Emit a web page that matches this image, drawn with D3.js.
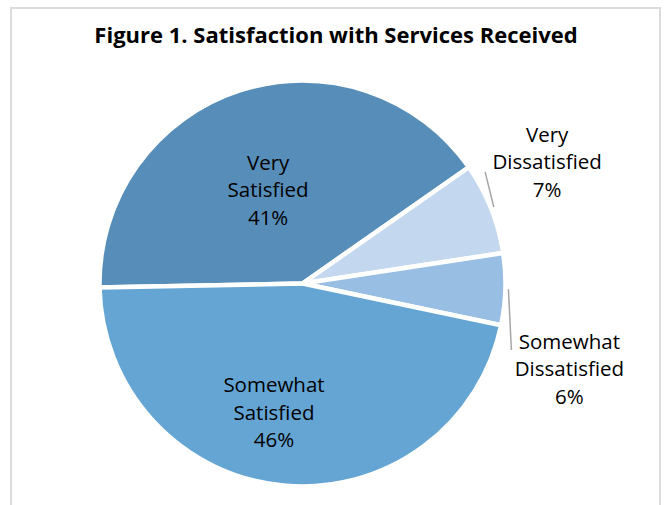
<!DOCTYPE html>
<html>
<head>
<meta charset="utf-8">
<script src="https://cdn.jsdelivr.net/npm/d3@7"></script>
<style>
  html, body { margin: 0; padding: 0; background: #fff; }
  svg { display: block; }
</style>
</head>
<body>
<svg id="chart" width="665" height="505"></svg>
<script>
// ---- data ----
const categories = ["Very Satisfied", "Very Dissatisfied", "Somewhat Dissatisfied", "Somewhat Satisfied"];
const values = [40.6, 7.3, 5.7, 46.4];
const labelLines = [["Very", "Satisfied"], ["Very", "Dissatisfied"], ["Somewhat", "Dissatisfied"], ["Somewhat", "Satisfied"]];
const colors = ["#578EB9", "#C3D8EE", "#98BEE3", "#65A5D4"];
const title = "Figure 1. Satisfaction with Services Received";

// ---- layout ----
const W = 665, H = 505;
const cx = 302.5, cy = 283.5, R = 203;
const startDeg = -91.1;
const FONT = "'Open Sans', 'Noto Sans', sans-serif";
// label placement relative to the slice's anchor point
const labelLayout = [
  { outside: false, dx: -3, dy: 3 },
  { outside: true, dx: -7, dy: -21, lx: -62, ly: 10 },
  { outside: true, dx: -4, dy: 78, lx: -58, ly: -19 },
  { outside: false, dx: -19, dy: 28 }
];

const svg = d3.select("#chart");

// frame
svg.append("rect")
  .attr("x", 11).attr("y", 8)
  .attr("width", 649).attr("height", 520)
  .attr("fill", "#fff")
  .attr("stroke", "#dcdcdc").attr("stroke-width", 2);

// title
svg.append("text")
  .attr("x", 336).attr("y", 43)
  .attr("text-anchor", "middle")
  .attr("font-family", FONT)
  .attr("font-weight", "bold")
  .attr("font-size", 22)
  .attr("fill", "#000")
  .text(title);

const rad = d => d * Math.PI / 180;
const pie = d3.pie().sort(null).value(d => d)
  .startAngle(rad(startDeg)).endAngle(rad(startDeg) + 2 * Math.PI);
const arcs = pie(values);
const arc = d3.arc().innerRadius(0).outerRadius(R);

const g = svg.append("g").attr("transform", `translate(${cx},${cy})`);

g.selectAll("path.slice")
  .data(arcs)
  .join("path")
  .attr("class", "slice")
  .attr("d", arc)
  .attr("fill", (d, i) => colors[i])
  .attr("stroke", "#fff")
  .attr("stroke-width", 4.5)
  .attr("stroke-linejoin", "miter");

const polar = (a, r) => [r * Math.sin(a), -r * Math.cos(a)];
const lineH = 27.5;

arcs.forEach((d, i) => {
  const mid = (d.startAngle + d.endAngle) / 2;
  const L = labelLayout[i];
  const p = L.outside ? polar(mid, R * 1.335) : arc.centroid(d);
  const x = p[0] + L.dx, y = p[1] + L.dy;
  const lines = labelLines[i].concat([Math.round(values[i]) + "%"]);
  const t = g.append("text")
    .attr("text-anchor", "middle")
    .attr("font-family", FONT)
    .attr("font-size", 20.5)
    .attr("fill", "#000");
  lines.forEach((s, k) => {
    t.append("tspan")
      .attr("x", x)
      .attr("y", y + (k - 1) * lineH + 7.2)
      .text(s);
  });
  if (L.outside) {
    const s = polar(mid, R + 3);
    g.append("line")
      .attr("x1", s[0]).attr("y1", s[1])
      .attr("x2", x + L.lx).attr("y2", y + L.ly)
      .attr("stroke", "#a6a6a6").attr("stroke-width", 1.5);
  }
});
</script>
</body>
</html>
